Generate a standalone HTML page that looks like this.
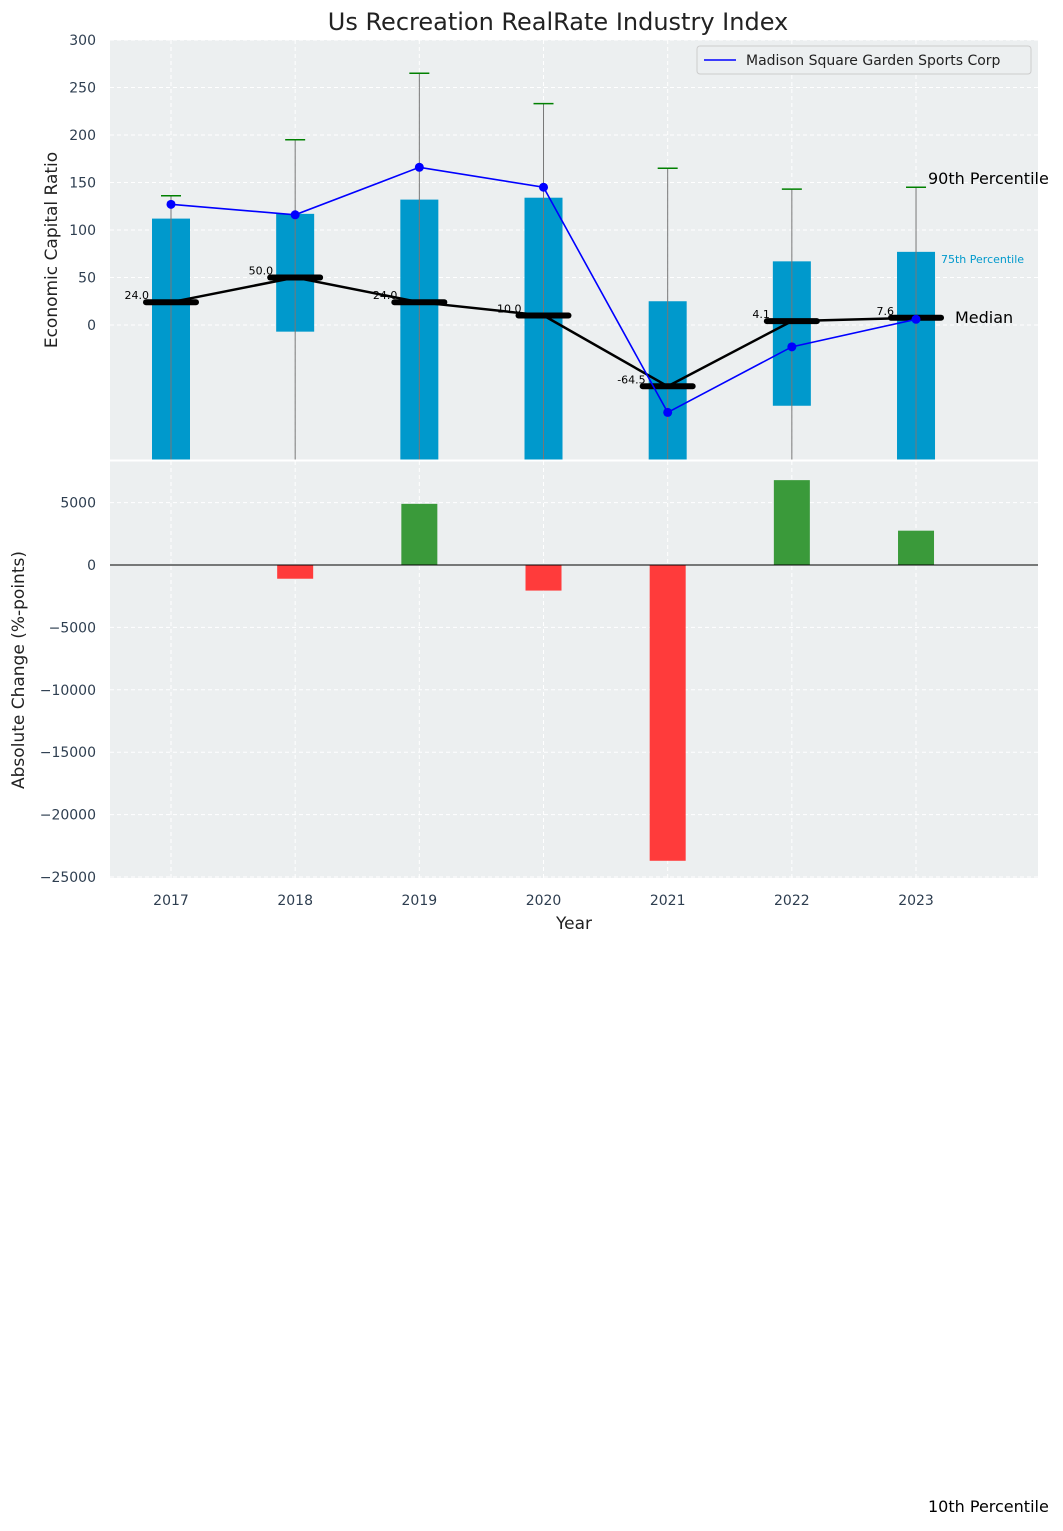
<!DOCTYPE html>
<html><head><meta charset="utf-8"><style>
body{margin:0;background:#fff;font-family:"Liberation Sans",sans-serif}
svg text{font-family:"DejaVu Sans","Liberation Sans",sans-serif}
</style></head><body>
<svg id="c" width="1063" height="1526" xmlns="http://www.w3.org/2000/svg"></svg>
<script>
const years=[2017,2018,2019,2020,2021,2022,2023];
const p75=[112,117,132,134,25,67,77];
const p25=[-200,-7,-200,-200,-200,-85,-200];
const p90=[136,195,265,233,165,143,145];
const medians=[24,50,24,10,-64.5,4.1,7.6];
const company=[127,116,166,145,-92,-23,6];
const changes=[0,-1100,4900,-2050,-23700,6800,2750];
const topTicks=[0,50,100,150,200,250,300];
const botTicks=[5000,0,-5000,-10000,-15000,-20000,-25000];
const NS="http://www.w3.org/2000/svg";const svg=document.getElementById('c');
function el(t,a,p){const e=document.createElementNS(NS,t);for(const k in a)e.setAttribute(k,a[k]);(p||svg).appendChild(e);return e;}
const X=y=>171+(y-2017)*124.17;
const Y1=v=>325-v*0.95;
const Y2=v=>565-v*62.4/5000;
const L=110,R=1038;
let e=el('rect',{x:L,y:40,width:R-L,height:420,fill:'#eceff0'});

e=el('rect',{x:L,y:461,width:R-L,height:417,fill:'#eceff0'});

const clip=el('clipPath',{id:'cp'});el('rect',{x:L,y:40,width:R-L,height:420},clip);
const topG=el('g',{'clip-path':'url(#cp)'});
topTicks.forEach(t=>{el('line',{x1:L,x2:R,y1:Y1(t),y2:Y1(t),stroke:'#fff','stroke-dasharray':'4,3'},topG);
 e=el('text',{x:96,y:Y1(t)+5,'text-anchor':'end','font-size':14,fill:'#2e3e50'});e.textContent=t;
 });
botTicks.forEach(t=>{el('line',{x1:L,x2:R,y1:Y2(t),y2:Y2(t),stroke:'#fff','stroke-dasharray':'4,3'});
 e=el('text',{x:96,y:Y2(t)+5,'text-anchor':'end','font-size':14,fill:'#2e3e50'});e.textContent=t.toString().replace('-','\u2212');
 });
years.forEach(y=>{el('line',{x1:X(y),x2:X(y),y1:40,y2:460,stroke:'#fff','stroke-dasharray':'4,3'},topG);
 el('line',{x1:X(y),x2:X(y),y1:461,y2:878,stroke:'#fff','stroke-dasharray':'4,3'});
 e=el('text',{x:X(y),y:905,'text-anchor':'middle','font-size':14,fill:'#2e3e50'});e.textContent=y;
 });
years.forEach((y,i)=>{
 e=el('rect',{x:X(y)-19,y:Y1(p75[i]),width:38,height:Y1(p25[i])-Y1(p75[i]),fill:'#0099cc'},topG);
 
 el('line',{x1:X(y),x2:X(y),y1:Y1(p90[i]),y2:470,stroke:'#777','stroke-width':1},topG);
 e=el('line',{x1:X(y)-10,x2:X(y)+10,y1:Y1(p90[i]),y2:Y1(p90[i]),stroke:'green','stroke-width':1.5},topG);
 
});
e=el('polyline',{points:years.map((y,i)=>X(y)+','+Y1(medians[i])).join(' '),fill:'none',stroke:'#000','stroke-width':2.5},topG);

years.forEach((y,i)=>{
 e=el('line',{x1:X(y)-25,x2:X(y)+25,y1:Y1(medians[i]),y2:Y1(medians[i]),stroke:'#000','stroke-width':6,'stroke-linecap':'round'},topG);
 
 e=el('text',{x:X(y)-22,y:Y1(medians[i])-3,'text-anchor':'end','font-size':11,fill:'#000'},topG);e.textContent=medians[i].toFixed(1);
 
});
e=el('polyline',{points:years.map((y,i)=>X(y)+','+Y1(company[i])).join(' '),fill:'none',stroke:'blue','stroke-width':1.6},topG);

years.forEach((y,i)=>{e=el('circle',{cx:X(y),cy:Y1(company[i]),r:4.5,fill:'blue'},topG);
 });
years.forEach((y,i)=>{const v=changes[i];
 e=el('rect',{x:X(y)-18,y:Math.min(Y2(v),Y2(0)),width:36,height:Math.abs(Y2(v)-Y2(0)),fill:v>=0?'#3a9a3a':'#ff3b3b'});
 });
el('line',{x1:L,x2:R,y1:Y2(0),y2:Y2(0),stroke:'#000','stroke-width':1});
el('line',{x1:L,x2:R,y1:460.5,y2:460.5,stroke:'#fff','stroke-width':2});
function T(x,y,s,sz,a,attrs,name){const t=el('text',Object.assign({x:x,y:y,'font-size':sz,'text-anchor':a||'start',fill:'#222'},attrs||{}));t.textContent=s;
 return t;}
T(558,30,'Us Recreation RealRate Industry Index',24,'middle',{},'chart-title');
T(57,250,'Economic Capital Ratio',17,'middle',{transform:'rotate(-90 57 250)'},'y-axis-title');
T(24,670,'Absolute Change (%-points)',17,'middle',{transform:'rotate(-90 24 670)'},'y2-axis-title');
T(574,929,'Year',17,'middle',{},'x-axis-title');
T(928,184,'90th Percentile',16,'start',{fill:'#000'},'p90-label');
T(941,263,'75th Percentile',11,'start',{fill:'#0099cc'},'p75-label');
T(955,323,'Median',16,'start',{fill:'#000'},'median-text-label');
T(928,1512,'10th Percentile',16,'start',{fill:'#000'},'p10-label');
const lg=el('g',{});


el('rect',{x:697,y:46,width:334,height:28,rx:3,fill:'#eceff0',stroke:'#ccc'},lg);
el('line',{x1:704,x2:736,y1:60,y2:60,stroke:'blue','stroke-width':1.6},lg);
e=el('text',{x:746,y:65,'font-size':14,fill:'#222'},lg);e.textContent='Madison Square Garden Sports Corp';


</script>
</body></html>
